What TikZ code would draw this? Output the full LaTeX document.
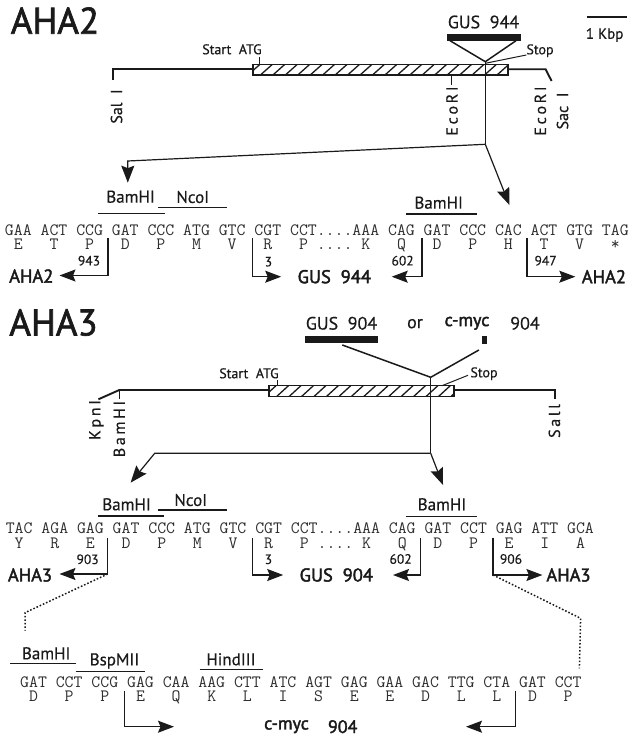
\documentclass[tikz,border=0pt]{standalone}
\usepackage{fontspec}
\setmainfont{PT Sans}[FakeBold=0.45]
\newfontfamily\heavyf{PT Sans}[FakeBold=1.8]
\newfontfamily\semif{PT Sans}[FakeBold=2.2]
\usetikzlibrary{arrows.meta}
\definecolor{ink}{HTML}{1A1A1A}
\definecolor{seqink}{HTML}{2E2E2E}
\tikzset{
  title/.style={font=\heavyf\fontsize{37}{37}\selectfont,text=ink,inner sep=0pt},
  lab/.style={font=\fontsize{#1}{#1}\selectfont,text=ink,inner sep=0pt},
  blab/.style={font=\semif\fontsize{#1}{#1}\selectfont,text=ink,inner sep=0pt},
  seq/.style={font=\ttfamily\fontsize{#1}{#1}\selectfont,text=seqink,inner sep=0pt,anchor=west},
  line/.style={draw=ink,line width=#1},
  line/.default=1pt,
  site/.style={draw=ink,line width=1.3pt},
  bar/.style={fill=ink,draw=none},
  arrowline/.style={draw=ink,line width=1.2pt,-{Stealth[length=16pt,width=12pt,inset=2.5pt]}},
  bigarrow/.style={draw=ink,line width=1.2pt,-{Stealth[length=17pt,width=13pt,inset=2.5pt]}},
  dots/.style={draw=ink,line width=1.5pt,dash pattern=on 1.6pt off 1.9pt},
  vert/.style={rotate=90}
}
% bracket: name, x, top y, bottom y, tip x
\newcommand{\brk}[5]{%
  \coordinate (#1t) at (#2,#3);
  \coordinate (#1c) at (#2,#4);
  \coordinate (#1e) at (#5,#4);
  \draw[arrowline] (#1t) -- (#1c) -- (#1e);
}
% hatched box
\newcommand{\hatchbox}[5]{%
  \coordinate (#1a) at (#2,#3);
  \coordinate (#1b) at (#4,#5);
  \begin{scope}
    \clip (#1a) rectangle (#1b);
    \foreach \k in {0,12.45,...,260}{\draw[ink,line width=1.3pt] (#2-5+\k,#5) -- (#2+7+\k,#3);}
  \end{scope}
  \draw[ink,line width=1.3pt] (#1a) rectangle (#1b);
}
\begin{document}
\begin{tikzpicture}[x=1pt,y=-1pt]
\useasboundingbox (0,0) rectangle (630,738);
%% ---------- AHA2 ----------
\node[title] (t2) at (55,20.5) {AHA2};
\node[lab=18] (gus944top) at (483.5,22) {GUS\ \ 944};
\path[bar] (447,34) rectangle (520.7,40.8);
\coordinate (triL) at (450,40.7); \coordinate (triR) at (516,40.7); \coordinate (apex) at (485.3,61.7);
\draw[line=1.5pt] (triL) -- (apex) -- (triR);
\coordinate (sb1) at (586.5,17.3); \coordinate (sb2) at (627,17.3);
\draw[line=1.7pt] (sb1) -- (sb2);
\node[lab=15] (kbp) at (604.6,35) {1 Kbp};
% gene line
\coordinate (sal2) at (113.3,80); \coordinate (l2a) at (113.3,69.3); \coordinate (l2b) at (253,69.3);
\coordinate (l2c) at (508,69.3); \coordinate (l2d) at (545.6,69.3); \coordinate (sac2) at (551.6,81);
\draw[line=1.9pt,line join=miter] (sal2) -- (l2a) -- (l2b);
\draw[line=1.9pt] (l2c) -- (l2d) -- (sac2);
\hatchbox{h2}{253}{64.3}{508}{75}
\coordinate (st2a) at (259,56.7); \coordinate (st2b) at (259,64.3);
\draw[line=1pt] (st2a) -- (st2b);
\node[lab=14] (start2) at (232,49.3) {Start\ \ ATG};
\node[lab=14] (stop2) at (540,50.7) {Stop};
\coordinate (sp2a) at (526.3,55); \coordinate (sp2b) at (485.3,63.3);
\draw[line=1pt] (sp2a) -- (sp2b);
\coordinate (eco2a) at (451.5,75); \coordinate (eco2b) at (451.5,85);
\draw[line=1pt] (eco2a) -- (eco2b);
\node[lab=16,vert] (sali2) at (116.5,106.5) {Sal\ \ I};
\node[lab=16,vert] (ecori2) at (452,111) {E\,c\,o\,R\,I};
\node[lab=16,vert] (ecori2b) at (540.4,111) {E\,c\,o\,R\,I};
\node[lab=16,vert] (saci2) at (562.5,111) {Sac\ \ I};
% expansion lines
\coordinate (j2) at (485.3,144.3); \coordinate (a2l) at (127.8,161); \coordinate (a2lt) at (127.8,182.7); \coordinate (a2rt) at (509.4,205);
\draw[line=1.2pt] (apex) -- (j2);
\draw[bigarrow] (j2) -- (a2l) -- (a2lt);
\draw[bigarrow] (j2) -- (a2rt);
% site labels
\node[lab=17] (bam2a) at (130.6,196.7) {BamHI};
\node[lab=17] (nco2) at (192.8,197) {NcoI};
\node[lab=17] (bam2b) at (438.7,202.7) {BamHI};
\draw[site] (98.4,213.3) coordinate (s1a) -- (164.7,213.3) coordinate (s1b);
\draw[site] (158,207.3) coordinate (s2a) -- (227.4,207.3) coordinate (s2b);
\draw[site] (405.8,214) coordinate (s3a) -- (477,214) coordinate (s3b);
% sequence
\node[seq=17.3] (seq2) at (4.8,230) {GAA ACT CCG GAT CCC ATG GTC CGT CCT....AAA CAG GAT CCC CAC ACT GTG TAG};
\node[seq=17.3] (pro2) at (4.8,245) {~E~~~T~~~P~~~D~~~P~~~M~~~V~~~R~~~P~....~K~~~Q~~~D~~~P~~~H~~~T~~~V~~~*};
% brackets
\brk{a}{108}{238}{275.5}{59.5}
\brk{b}{252.3}{238}{276.7}{281.2}
\brk{c}{421.9}{238}{276.7}{391.7}
\brk{d}{527}{238}{276.7}{575.3}
\node[lab=13.5] (n943) at (89,260.7) {943};
\node[lab=13.5] (n3a) at (268.4,261.7) {3};
\node[lab=13.5] (n602a) at (402.6,260.7) {602};
\node[lab=13.5] (n947) at (545.6,260.7) {947};
\node[blab=18.5] (aha2l) at (31.3,276) {AHA2};
\node[blab=18.5] (gus944) at (334.3,276.7) {GUS\ \ 944};
\node[blab=18.5] (aha2r) at (603.9,276.7) {AHA2};
%% ---------- AHA3 ----------
\node[title] (t3) at (53.5,322.5) {AHA3};
\node[lab=18] (gus904top) at (341.5,323.3) {GUS\ \ 904};
\node[lab=18] (ortxt) at (415,323.7) {or};
\node[blab=18] (cmyctop) at (467,323.3) {c-myc};
\node[lab=18] (n904top) at (525,323.3) {904};
\path[bar] (304.5,335.7) rectangle (378,342.7);
\path[bar] (482,336) rectangle (487.4,344);
\coordinate (g1) at (342.3,345); \coordinate (g2) at (478.9,350); \coordinate (g3) at (430.7,377.3);
\draw[line=1.5pt] (g1) -- (g3) -- (g2);
\coordinate (l3a) at (98.4,399.3); \coordinate (l3b) at (119.3,390); \coordinate (l3c) at (269,390);
\coordinate (l3d) at (454,390); \coordinate (l3e) at (555.2,390); \coordinate (l3f) at (555.2,399.3);
\coordinate (bam3t) at (119.3,399);
\draw[line=1.9pt] (l3a) -- (l3b) -- (l3c);
\draw[line=1.9pt] (l3d) -- (l3e) -- (l3f);
\draw[line=1.2pt] (l3b) -- (bam3t);
\hatchbox{h3}{269}{385.7}{454}{396.7}
\coordinate (st3a) at (277,380); \coordinate (st3b) at (277,385.7);
\draw[line=1pt] (st3a) -- (st3b);
\node[lab=14] (start3) at (249,373.3) {Start\ \ ATG};
\node[lab=14] (stop3) at (484,373.7) {Stop};
\coordinate (sp3a) at (468,375.3); \coordinate (sp3b) at (442,385.7);
\draw[line=1pt] (sp3a) -- (sp3b);
\node[lab=16,vert] (kpn3) at (96.4,420) {K\,p\,n\,I};
\node[lab=16,vert] (bam3v) at (119.3,429) {B\,a\,m\,H\,I};
\node[lab=16,vert] (sal3) at (554.4,421) {S\,a\,l\,l};
\coordinate (j3) at (430.7,453.3); \coordinate (a3l) at (154.7,453.3); \coordinate (a3lt) at (130.6,482.7); \coordinate (a3rt) at (443,485);
\draw[line=1.2pt] (g3) -- (j3);
\draw[bigarrow] (j3) -- (a3l) -- (a3lt);
\draw[bigarrow] (j3) -- (a3rt);
\node[lab=17] (bam3a) at (126.6,504.3) {BamHI};
\node[lab=17] (nco3) at (190.8,500) {NcoI};
\node[lab=17] (bam3b) at (442,504.3) {BamHI};
\draw[site] (97.6,516) coordinate (s4a) -- (164,516) coordinate (s4b);
\draw[site] (157.5,510) coordinate (s5a) -- (227,510) coordinate (s5b);
\draw[site] (405.8,516.7) coordinate (s6a) -- (477.3,516.7) coordinate (s6b);
\node[seq=17.3] (seq3) at (5.6,528.3) {TAC AGA GAG GAT CCC ATG GTC CGT CCT....AAA CAG GAT CCT GAG ATT GCA};
\node[seq=17.3] (pro3) at (5.6,544) {~Y~~~R~~~E~~~D~~~P~~~M~~~V~~~R~~~P~....~K~~~Q~~~D~~~P~~~E~~~I~~~A};
\brk{e}{107.7}{537.7}{574}{59.5}
\brk{f}{252.3}{537.7}{575}{283.2}
\brk{g}{420.6}{537.7}{575}{393}
\brk{h}{493}{537.7}{575}{542.4}
\node[lab=13.5] (n903) at (87.6,559.3) {903};
\node[lab=13.5] (n3b) at (268.4,559.3) {3};
\node[lab=13.5] (n602b) at (400.6,559) {602};
\node[lab=13.5] (n906) at (511,559) {906};
\node[blab=18.5] (aha3l) at (30,575) {AHA3};
\node[blab=18.5] (gus904) at (336.3,575) {GUS\ \ 904};
\node[blab=18.5] (aha3r) at (568.5,575) {AHA3};
% dotted
\coordinate (dl1) at (25,612.7); \coordinate (dl2) at (25,630.7);
\coordinate (dr1) at (580.6,618.3); \coordinate (dr2) at (579.4,668.3);
\draw[dots] (ec) -- (dl1) -- (dl2);
\draw[dots] (hc) -- (dr1) -- (dr2);
% c-myc
\node[lab=17] (bam4) at (46.2,653.3) {BamHI};
\node[lab=17] (bsp) at (114.5,661) {BspMII};
\node[lab=17] (hind) at (231,659.3) {HindIII};
\draw[site] (10,663.3) coordinate (s7a) -- (76.3,663.3) coordinate (s7b);
\draw[site] (75.5,671.3) coordinate (s8a) -- (145.4,671.3) coordinate (s8b);
\draw[site] (199.7,669.3) coordinate (s9a) -- (263,669.3) coordinate (s9b);
\node[seq=17.3] (seq4) at (20,681.7) {GAT CCT CCG GAG CAA AAG CTT ATC AGT GAG GAA GAC TTG CTA GAT CCT};
\node[seq=17.3] (pro4) at (20,697.3) {~D~~~P~~~P~~~E~~~Q~~~K~~~L~~~I~~~S~~~E~~~E~~~D~~~L~~~L~~~D~~~P};
\brk{i}{124.5}{690.7}{726.7}{174}
\brk{k}{515.5}{690.7}{726.7}{466}
\node[blab=18] (cmyc) at (286.5,726.7) {c-myc};
\node[blab=18] (n904) at (342.7,726.7) {904};
\end{tikzpicture}
\end{document}
